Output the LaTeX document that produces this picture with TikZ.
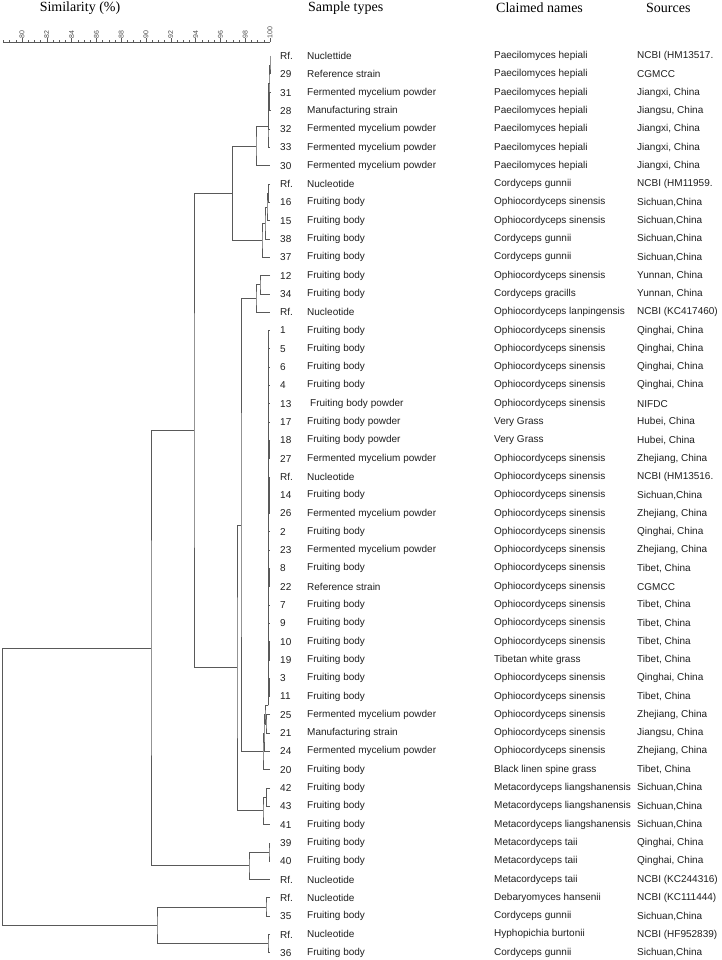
\documentclass[tikz,border=0pt]{standalone}
\usepackage{fontspec}
\setmainfont{Liberation Serif}
\newfontfamily\rowfont{Liberation Sans}
\tikzset{
  branch/.style={draw=black!65, line width=0.8pt},
  cell/.style={anchor=west, inner sep=0pt, text=black!88, font=\rowfont\fontsize{10}{12}\selectfont},
  head/.style={inner sep=0pt, font=\fontsize{14}{16}\selectfont},
  scalelabel/.style={anchor=west, rotate=90, inner sep=0pt, text=black!70, font=\rowfont\fontsize{7}{8}\selectfont}
}
\begin{document}
\begin{tikzpicture}[x=1pt, y=-1pt]
  \useasboundingbox (0,0) rectangle (721,960);
  \node[head] (hsim) at (80,8) {Similarity (\%)};
  \node[head, anchor=west] (hsam) at (308,8) {Sample types};
  \node[head, anchor=west] (hcla) at (496,8) {Claimed names};
  \node[head, anchor=west] (hsrc) at (646,8) {Sources};
  \draw[branch, line width=0.6pt] (3,42) -- (270,42);
  \foreach \k in {0,...,43}
    \draw[branch, line width=0.6pt] ({270-6.2*\k},42) -- ++(0,-2);
  \foreach \v [count=\k from 0] in {100,98,...,80}
    \draw[branch, line width=0.6pt] ({270-24.8*\k},42) -- ++(0,-3.5) node[scalelabel] (tk\k) {\v};
  \foreach \n/\s/\c/\o [count=\i from 0] in {
    Rf./Nuclettide/Paecilomyces hepiali/{NCBI (HM13517.},
    29/Reference strain/Paecilomyces hepiali/{CGMCC},
    31/Fermented mycelium powder/Paecilomyces hepiali/{Jiangxi, China},
    28/Manufacturing strain/Paecilomyces hepiali/{Jiangsu, China},
    32/Fermented mycelium powder/Paecilomyces hepiali/{Jiangxi, China},
    33/Fermented mycelium powder/Paecilomyces hepiali/{Jiangxi, China},
    30/Fermented mycelium powder/Paecilomyces hepiali/{Jiangxi, China},
    Rf./Nucleotide/Cordyceps gunnii/{NCBI (HM11959.},
    16/Fruiting body/Ophiocordyceps sinensis/{Sichuan,China},
    15/Fruiting body/Ophiocordyceps sinensis/{Sichuan,China},
    38/Fruiting body/Cordyceps gunnii/{Sichuan,China},
    37/Fruiting body/Cordyceps gunnii/{Sichuan,China},
    12/Fruiting body/Ophiocordyceps sinensis/{Yunnan, China},
    34/Fruiting body/Cordyceps gracills/{Yunnan, China},
    Rf./Nucleotide/Ophiocordyceps lanpingensis/{NCBI (KC417460)},
    1/Fruiting body/Ophiocordyceps sinensis/{Qinghai, China},
    5/Fruiting body/Ophiocordyceps sinensis/{Qinghai, China},
    6/Fruiting body/Ophiocordyceps sinensis/{Qinghai, China},
    4/Fruiting body/Ophiocordyceps sinensis/{Qinghai, China},
    13/{\hspace{3pt}Fruiting body powder}/Ophiocordyceps sinensis/{NIFDC},
    17/Fruiting body powder/Very Grass/{Hubei, China},
    18/Fruiting body powder/Very Grass/{Hubei, China},
    27/Fermented mycelium powder/Ophiocordyceps sinensis/{Zhejiang, China},
    Rf./Nucleotide/Ophiocordyceps sinensis/{NCBI (HM13516.},
    14/Fruiting body/Ophiocordyceps sinensis/{Sichuan,China},
    26/Fermented mycelium powder/Ophiocordyceps sinensis/{Zhejiang, China},
    2/Fruiting body/Ophiocordyceps sinensis/{Qinghai, China},
    23/Fermented mycelium powder/Ophiocordyceps sinensis/{Zhejiang, China},
    8/Fruiting body/Ophiocordyceps sinensis/{Tibet, China},
    22/Reference strain/Ophiocordyceps sinensis/{CGMCC},
    7/Fruiting body/Ophiocordyceps sinensis/{Tibet, China},
    9/Fruiting body/Ophiocordyceps sinensis/{Tibet, China},
    10/Fruiting body/Ophiocordyceps sinensis/{Tibet, China},
    19/Fruiting body/Tibetan white grass/{Tibet, China},
    3/Fruiting body/Ophiocordyceps sinensis/{Qinghai, China},
    11/Fruiting body/Ophiocordyceps sinensis/{Tibet, China},
    25/Fermented mycelium powder/Ophiocordyceps sinensis/{Zhejiang, China},
    21/Manufacturing strain/Ophiocordyceps sinensis/{Jiangsu, China},
    24/Fermented mycelium powder/Ophiocordyceps sinensis/{Zhejiang, China},
    20/Fruiting body/Black linen spine grass/{Tibet, China},
    42/Fruiting body/Metacordyceps liangshanensis/{Sichuan,China},
    43/Fruiting body/Metacordyceps liangshanensis/{Sichuan,China},
    41/Fruiting body/Metacordyceps liangshanensis/{Sichuan,China},
    39/Fruiting body/Metacordyceps taii/{Qinghai, China},
    40/Fruiting body/Metacordyceps taii/{Qinghai, China},
    Rf./Nucleotide/Metacordyceps taii/{NCBI (KC244316)},
    Rf./Nucleotide/Debaryomyces hansenii/{NCBI (KC111444)},
    35/Fruiting body/Cordyceps gunnii/{Sichuan,China},
    Rf./Nucleotide/Hyphopichia burtonii/{NCBI (HF952839)},
    36/Fruiting body/Cordyceps gunnii/{Sichuan,China}}{
    \coordinate (l\i) at (270,{56+18.3*\i});
    \node[cell] (n\i) at (280,{56+18.3*\i}) {\n};
    \node[cell] (s\i) at (307,{56+18.3*\i}) {\s};
    \node[cell] (c\i) at (494,{56+18.3*\i}) {\c};
    \node[cell] (o\i) at (637,{56+18.3*\i}) {\o};
  }
  \coordinate (a1) at (270,65.15);
  \coordinate (a2) at (269.5,101.75);
  \coordinate (a3) at (269,83.45);
  \coordinate (a4) at (268.8,106.33);
  \coordinate (a5) at (268,126.9);
  \coordinate (pa) at (256,146.35);
  \coordinate (g1) at (268.5,193.25);
  \coordinate (g2) at (267,206.98);
  \coordinate (g3) at (265,222.99);
  \coordinate (g4) at (262,240.15);
  \coordinate (pg) at (232.5,193.25);
  \coordinate (y1) at (260,284.75);
  \coordinate (y2) at (256,298.48);
  \coordinate (p1) at (269.3,449.45);
  \coordinate (p2) at (269.3,504.35);
  \coordinate (p3) at (269.3,577.55);
  \coordinate (p4) at (269.3,650.75);
  \coordinate (p5) at (269.3,687.35);
  \coordinate (mA) at (268.3,705);
  \coordinate (u0) at (266,723.95);
  \coordinate (u1) at (265,714.48);
  \coordinate (u2) at (264,732.94);
  \coordinate (m) at (263,751.32);
  \coordinate (y3) at (241,524.9);
  \coordinate (h1) at (266.5,797.15);
  \coordinate (h2) at (263,810.88);
  \coordinate (s) at (237,667.89);
  \coordinate (pgs) at (194,430.57);
  \coordinate (t1) at (269,852.05);
  \coordinate (t2) at (249,865.78);
  \coordinate (pgst) at (151,648.18);
  \coordinate (d1) at (266,906.95);
  \coordinate (d2) at (268,943.55);
  \coordinate (d3) at (157,925.25);
  \coordinate (root) at (2.5,786.7);
  \begin{scope}[branch]
    \draw (l0) -| (a1) |- (l1);
    \draw (l2) -| (a2) |- (l3);
    \draw (a1) -| (a3) |- (a2);
    \draw (a3) -| (a4) |- (l4);
    \draw (a4) -| (a5) |- (l5);
    \draw (a5) -| (pa) |- (l6);
    \draw (l7) -| (g1) |- (l8);
    \draw (g1) -| (g2) |- (l9);
    \draw (g2) -| (g3) |- (l10);
    \draw (g3) -| (g4) |- (l11);
    \draw (pa) -| (pg) |- (g4);
    \draw (l12) -| (y1) |- (l13);
    \draw (y1) -| (y2) |- (l14);
    \draw (l21) -| (p1) |- (l22);
    \draw (l23) -| (p2) |- (l25);
    \draw (p2) |- (l24);
    \draw (l28) -| (p3) |- (l29);
    \draw (l32) -| (p4) |- (l33);
    \draw (l34) -| (p5) |- (l35);
    \draw (mA) |- (l15);
    \draw (mA) |- (l16);
    \draw (mA) |- (l17);
    \draw (mA) |- (l18);
    \draw (mA) |- (l19);
    \draw (mA) |- (l20);
    \draw (mA) |- (p1);
    \draw (mA) |- (p2);
    \draw (mA) |- (l26);
    \draw (mA) |- (l27);
    \draw (mA) |- (p3);
    \draw (mA) |- (l30);
    \draw (mA) |- (l31);
    \draw (mA) |- (p4);
    \draw (mA) |- (p5);
    \draw (l36) -| (u0) |- (l37);
    \draw (mA) -| (u1) |- (u0);
    \draw (u1) -| (u2) |- (l38);
    \draw (u2) -| (m) |- (l39);
    \draw (y2) -| (y3) |- (m);
    \draw (l40) -| (h1) |- (l41);
    \draw (h1) -| (h2) |- (l42);
    \draw (y3) -| (s) |- (h2);
    \draw (pg) -| (pgs) |- (s);
    \draw (l43) -| (t1) |- (l44);
    \draw (t1) -| (t2) |- (l45);
    \draw (pgs) -| (pgst) |- (t2);
    \draw (l46) -| (d1) |- (l47);
    \draw (l48) -| (d2) |- (l49);
    \draw (d1) -| (d3) |- (d2);
    \draw (pgst) -| (root) |- (d3);
  \end{scope}
\end{tikzpicture}
\end{document}
